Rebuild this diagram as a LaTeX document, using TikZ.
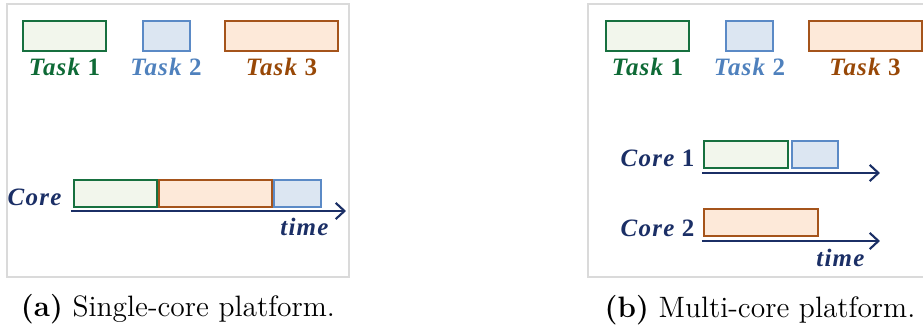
\documentclass[tikz,border=0pt]{standalone}
\usepackage{fontspec}
\newfontfamily\taskfont[LetterSpace=5]{Liberation Serif}
\usetikzlibrary{arrows.meta}
\definecolor{tgreen}{HTML}{17703F}
\definecolor{tgreenfill}{HTML}{F2F6EC}
\definecolor{tblue}{HTML}{5B8AC6}
\definecolor{tbluefill}{HTML}{DCE6F2}
\definecolor{torange}{HTML}{A5541B}
\definecolor{torangefill}{HTML}{FDE9D9}
\definecolor{lgreen}{HTML}{0E6A36}
\definecolor{lblue}{HTML}{4F81BD}
\definecolor{lorange}{HTML}{984807}
\definecolor{navy}{HTML}{1B2F66}
\definecolor{framegray}{HTML}{DADADA}
\tikzset{
  slot/.style n args={2}{anchor=north west, inner sep=0pt, outer sep=0pt,
    minimum width=#1*0.4pt, minimum height=#2*0.4pt, line width=0.5pt},
  greenbox/.style={draw=tgreen, fill=tgreenfill},
  bluebox/.style={draw=tblue, fill=tbluefill},
  orangebox/.style={draw=torange, fill=torangefill},
  lbl/.style={inner sep=0pt, anchor=base, font=\taskfont\fontsize{10}{11}\selectfont\bfseries},
  axis/.style={draw=navy, line width=0.85pt, -{Straight Barb[length=3.5pt,width=6.5pt,line width=0.85pt]}},
  panel/.style={draw=framegray, line width=0.5pt},
  capt/.style={inner sep=0pt, anchor=base, font=\fontsize{11.8}{13}\selectfont}
}
\newcommand{\tk}[1]{{\itshape Task} #1}
\begin{document}
\begin{tikzpicture}[x=0.4pt, y=-0.4pt]
\useasboundingbox (0,0) rectangle (923,332);

% ---------- single-core panel ----------
\draw[panel] (7,4) rectangle (349,277);
\node[slot={83}{30}, greenbox]  (a1) at (23,21) {};
\node[slot={47}{30}, bluebox]   (a2) at (143,21) {};
\node[slot={113}{30}, orangebox] (a3) at (225,21) {};
\node[lbl, text=lgreen]  (la1) at (64.5,76) {\tk{1}};
\node[lbl, text=lblue]   (la2) at (166,76) {\tk{2}};
\node[lbl, text=lorange] (la3) at (281.5,76) {\tk{3}};

\node[slot={83}{27}, greenbox]   (s1) at (74,180) {};
\node[slot={113}{27}, orangebox] (s3) at (159,180) {};
\node[slot={47}{27}, bluebox]    (s2) at (274,180) {};
\coordinate (sa) at (71,211);
\coordinate (sb) at (346,211);
\draw[axis] (sa) -- (sb);
\node[lbl, text=navy, anchor=base east] (score) at (62,206) {\itshape Core};
\node[lbl, text=navy, anchor=base east] (stime) at (329,236) {\itshape time};
\node[capt] (capa) at (178,317) {\textbf{(a)} Single-core platform.};

% ---------- multi-core panel ----------
\draw[panel] (923,4) -- (588,4) -- (588,277) -- (923,277);
\node[slot={83}{30}, greenbox]   (b1) at (606,21) {};
\node[slot={47}{30}, bluebox]    (b2) at (726,21) {};
\node[slot={113}{30}, orangebox] (b3) at (809,21) {};
\node[lbl, text=lgreen]  (lb1) at (647.5,76) {\tk{1}};
\node[lbl, text=lblue]   (lb2) at (749.5,76) {\tk{2}};
\node[lbl, text=lorange] (lb3) at (865,76) {\tk{3}};

\node[slot={84}{27}, greenbox]   (m1) at (704,141) {};
\node[slot={46}{27}, bluebox]    (m2) at (792,141) {};
\coordinate (c1a) at (702,173);
\coordinate (c1b) at (880,173);
\draw[axis] (c1a) -- (c1b);
\node[lbl, text=navy, anchor=base east] (core1) at (695,167) {{\itshape Core} 1};

\node[slot={114}{27}, orangebox] (m3) at (704,209) {};
\coordinate (c2a) at (702,241);
\coordinate (c2b) at (880,241);
\draw[axis] (c2a) -- (c2b);
\node[lbl, text=navy, anchor=base east] (core2) at (695,237) {{\itshape Core} 2};
\node[lbl, text=navy, anchor=base east] (mtime) at (865,267) {\itshape time};
\node[capt] (capb) at (760,318) {\textbf{(b)} Multi-core platform.};
\end{tikzpicture}
\end{document}
